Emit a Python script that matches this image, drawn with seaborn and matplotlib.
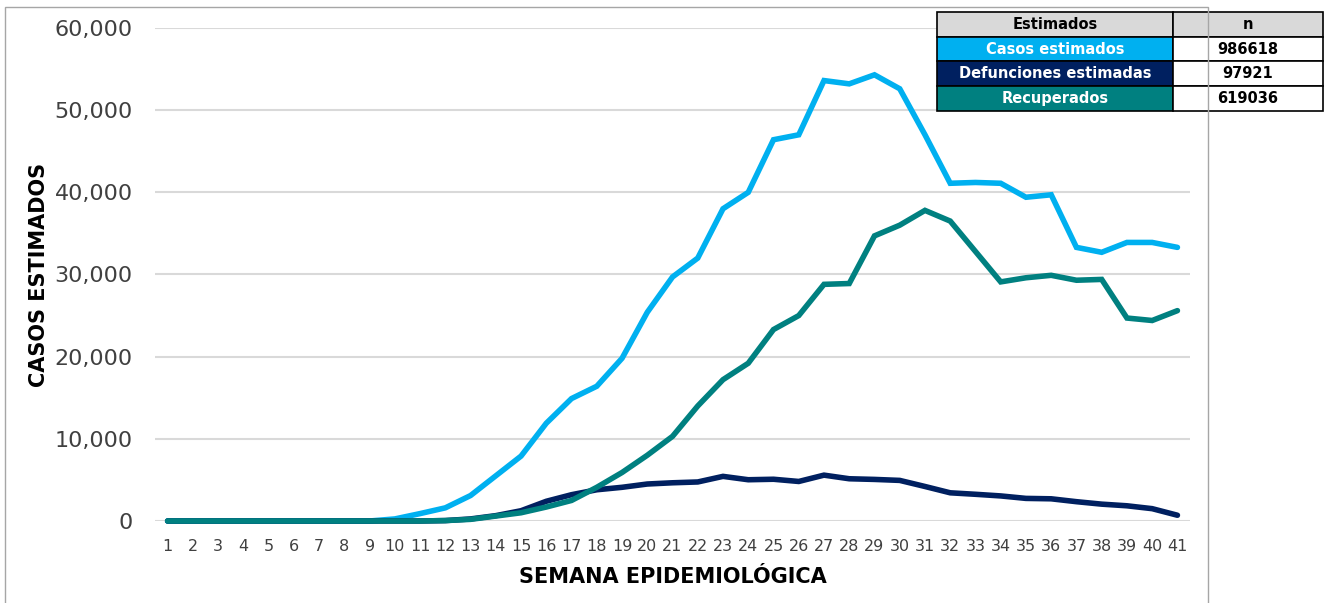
import pandas as pd
import numpy as np
import matplotlib
matplotlib.use("Agg")
import matplotlib.pyplot as plt
import matplotlib.ticker as mticker
from matplotlib.patches import Rectangle
import seaborn as sns

# data
semanas = list(range(1, 42))
casos = [0, 0, 0, 0, 0, 0, 0, 0, 0, 250,
         900, 1600, 3100, 5500, 7900, 11900, 14900, 16400, 19800, 25400,
         29700, 32000, 38000, 40000, 46400, 47000, 53600, 53200, 54300, 52600,
         47000, 41100, 41200, 41100, 39400, 39700, 33300, 32700, 33900, 33900,
         33300]
defunciones = [0, 0, 0, 0, 0, 0, 0, 0, 0, 0,
               0, 50, 250, 650, 1250, 2400, 3200, 3800, 4100, 4500,
               4650, 4750, 5430, 5020, 5080, 4810, 5580, 5140, 5060, 4940,
               4200, 3430, 3250, 3050, 2750, 2700, 2350, 2050, 1850, 1500,
               700]
recuperados = [0, 0, 0, 0, 0, 0, 0, 0, 0, 0,
               0, 50, 200, 600, 1000, 1700, 2500, 4100, 5900, 8000,
               10300, 14000, 17200, 19200, 23300, 25000, 28800, 28900, 34700, 36000,
               37800, 36500, 32800, 29100, 29600, 29900, 29300, 29400, 24700, 24400,
               25600]

series = ["Casos estimados", "Defunciones estimadas", "Recuperados"]
colores = ["#00B0F0", "#002060", "#008080"]
totales = ["986618", "97921", "619036"]

df = pd.DataFrame({"semana": semanas, series[0]: casos,
                   series[1]: defunciones, series[2]: recuperados})
df_long = df.melt(id_vars="semana", var_name="serie", value_name="casos")

sns.set_style("white")
plt.rcParams["font.family"] = ["DejaVu Sans"]
plt.rcParams["text.color"] = "black"

fig = plt.figure(figsize=(13.27, 6.03), dpi=100)
ax = fig.add_axes([0.1168, 0.136, 0.78, 0.8176])

# teal drawn last so it sits on top of the navy line, as in the original
sns.lineplot(data=df_long, x="semana", y="casos", hue="serie",
             palette=dict(zip(series, colores)), hue_order=series,
             linewidth=4, legend=False, ax=ax)
for ln in ax.lines:
    ln.set_solid_capstyle("round")
    ln.set_solid_joinstyle("miter")
    ln.set_clip_on(False)

ax.set_xlim(0.5, 41.5)
ax.set_ylim(0, 60000)
ax.set_xticks(semanas)
ax.set_xticklabels([str(s) for s in semanas], fontsize=11.5, color="#404040")
ax.set_yticks(range(0, 60001, 10000))
ax.yaxis.set_major_formatter(mticker.FuncFormatter(lambda v, p: f"{int(v):,}"))
ax.tick_params(axis="y", labelsize=16, colors="#404040", length=0, pad=16)
ax.tick_params(axis="x", length=0, pad=13)
ax.grid(axis="y", color="#d9d9d9", linewidth=1.5)
ax.set_axisbelow(True)
for s in ax.spines.values():
    s.set_visible(False)

ax.set_xlabel("SEMANA EPIDEMIOLÓGICA", fontsize=15, fontweight="bold",
              labelpad=9, color="black")
ax.set_ylabel("CASOS ESTIMADOS", fontsize=15, fontweight="bold", color="black")
ax.yaxis.set_label_coords(-0.102, 0.5)

# chart frame
fig.patches.append(Rectangle((5 / 1327, -0.05), 1203 / 1327, 1.05 - 7 / 603,
                             transform=fig.transFigure, fill=False,
                             edgecolor="#a6a6a6", linewidth=1, zorder=0))

# summary table
tax = fig.add_axes([937 / 1327, 1 - 111 / 603, 386 / 1327, 99 / 603])
tax.axis("off")
cells = [["Estimados", "n"]] + [[s, t] for s, t in zip(series, totales)]
tbl = tax.table(cellText=cells, bbox=[0, 0, 1, 1], colWidths=[0.611, 0.389],
                cellLoc="center")
tbl.auto_set_font_size(False)
for (r, c), cell in tbl.get_celld().items():
    cell.set_edgecolor("black")
    cell.set_linewidth(1.2)
    txt = cell.get_text()
    txt.set_fontsize(10.5)
    txt.set_fontweight("bold")
    txt.set_color("black")
    if r == 0:
        cell.set_facecolor("#d9d9d9")
    elif c == 0:
        cell.set_facecolor(colores[r - 1])
        txt.set_color("white")
    else:
        cell.set_facecolor("white")

fig.savefig("out.png", dpi=100)
